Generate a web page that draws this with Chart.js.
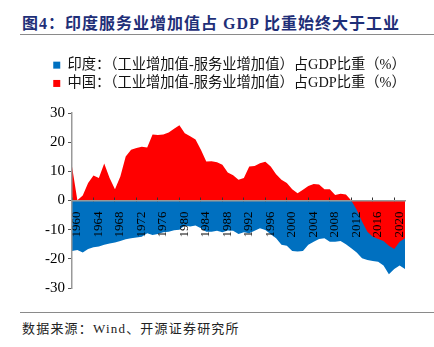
<!DOCTYPE html>
<html>
<head>
<meta charset="utf-8">
<script src="https://cdn.jsdelivr.net/npm/chart.js@4.4.0/dist/chart.umd.min.js"></script>
<style>
  body { margin: 0; width: 434px; height: 347px; background: #fff; position: relative; overflow: hidden;
         font-family: "Liberation Serif", "Noto Sans CJK SC", serif; }
  #title { position: absolute; left: 22px; top: 10px; font-size: 16px; font-weight: bold; color: #1f2f78;
           letter-spacing: 1px; white-space: nowrap; }
  .rule { position: absolute; left: 20px; width: 414px; border-top: 1.5px solid #8a8a8a; }
  #wrap { position: absolute; left: 0; top: 54px; width: 434px; height: 251px; }
  #source { position: absolute; left: 22px; top: 318px; font-size: 13px; color: #222; letter-spacing: 1.2px;
            white-space: nowrap; }
</style>
</head>
<body>
<div id="title">图4：印度服务业增加值占 GDP 比重始终大于工业</div>
<div class="rule" style="top:34px"></div>
<div id="wrap"><canvas id="areaChart"></canvas></div>
<div class="rule" style="top:312px"></div>
<div id="source">数据来源：Wind、开源证券研究所</div>
<script>
const years = [
  "1960", "1961", "1962", "1963", "1964", "1965", "1966", "1967", "1968", "1969",
  "1970", "1971", "1972", "1973", "1974", "1975", "1976", "1977", "1978", "1979",
  "1980", "1981", "1982", "1983", "1984", "1985", "1986", "1987", "1988", "1989",
  "1990", "1991", "1992", "1993", "1994", "1995", "1996", "1997", "1998", "1999",
  "2000", "2001", "2002", "2003", "2004", "2005", "2006", "2007", "2008", "2009",
  "2010", "2011", "2012", "2013", "2014", "2015", "2016", "2017", "2018", "2019",
  "2020", "2021", "2022"
];
// 工业增加值 - 服务业增加值，占GDP比重（%）
const indiaGap = [
  -17.3, -17.0, -17.8, -16.6, -16.0, -15.8, -15.2, -14.7, -14.4, -13.9,
  -13.3, -12.9, -12.7, -12.4, -11.2, -11.8, -11.5, -10.9, -10.7, -10.2,
  -10.0, -8.6, -8.9, -8.6, -9.5, -10.7, -10.7, -10.4, -10.9, -10.3,
  -10.4, -11.5, -10.9, -11.2, -10.4, -9.5, -10.1, -11.6, -12.9, -15.2,
  -15.5, -17.3, -17.5, -17.3, -15.2, -14.1, -13.2, -12.9, -14.1, -14.1,
  -13.9, -15.0, -16.4, -17.8, -19.8, -20.4, -20.7, -21.0, -22.3, -25.3,
  -23.5, -22.3, -23.5
];
const chinaGap = [
  11.7, 0.1, 1.7, 6.0, 8.6, 7.7, 12.7, 7.7, 3.9, 8.2,
  15.1, 17.4, 18.0, 18.4, 18.2, 22.6, 22.5, 22.6, 23.3, 24.6,
  25.8, 23.1, 22.0, 20.9, 17.4, 13.4, 13.5, 13.1, 12.3, 9.6,
  8.7, 7.1, 7.7, 11.7, 11.8, 12.8, 13.3, 11.7, 9.0, 7.1,
  6.0, 3.9, 2.5, 3.7, 5.0, 5.7, 5.5, 3.9, 3.9, 1.9,
  2.3, 2.1, 0.0, -3.2, -7.2, -10.7, -12.4, -13.2, -13.9, -15.5,
  -16.6, -14.1, -12.9
];
const tickYears = ["1960", "1964", "1968", "1972", "1976", "1980", "1984", "1988",
  "1992", "1996", "2000", "2004", "2008", "2012", "2016", "2020"];
const yTicks = [-30, -20, -10, 0, 10, 20, 30];

const serif = '"Liberation Serif", "Noto Sans CJK SC", serif';

// taller legend box to open a gap above the plot, and nudge the legend rightwards
const legendTweak = {
  id: "legendTweak",
  beforeInit(chart) {
    const legend = chart.legend;
    const fit = legend.fit;
    const draw = legend.draw;
    legend.fit = function () {
      fit.call(this);
      this.height = 59;
    };
    legend.draw = function () {
      this.ctx.save();
      this.ctx.translate(27, 0);
      draw.call(this);
      this.ctx.restore();
    };
  },
};

const ctx = document.getElementById("areaChart").getContext("2d");
const areaChart = new Chart(ctx, {
  type: "line",
  data: {
    labels: years,
    datasets: [
      {
        label: "印度：（工业增加值-服务业增加值）占GDP比重（%）",
        data: indiaGap,
        backgroundColor: "#0070c0",
        borderColor: "rgba(0,0,0,0)",
        borderWidth: 0,
        fill: "origin",
        pointRadius: 0,
        tension: 0,
        order: 1, // drawn underneath
      },
      {
        label: "中国：（工业增加值-服务业增加值）占GDP比重（%）",
        data: chinaGap,
        backgroundColor: "#ff0000",
        borderColor: "rgba(0,0,0,0)",
        borderWidth: 0,
        fill: "origin",
        pointRadius: 0,
        tension: 0,
        order: 0,
      },
    ],
  },
  options: {
    responsive: true,
    maintainAspectRatio: false,
    animation: false,
    layout: { padding: { left: 0, right: 29, top: 0, bottom: 17 } },
    scales: {
      x: {
        position: { y: 0 },
        // axis, tick marks and years go on top of the filled areas
        grid: { drawOnChartArea: false, tickLength: -4, tickColor: "#333", lineWidth: 1, z: 1 },
        border: { display: true, color: "#999", width: 1.5, z: 1 },
        ticks: {
          z: 1,
          autoSkip: false,
          minRotation: 90,
          maxRotation: 90,
          padding: 15,
          labelOffset: 5,
          color: "#000",
          font: { family: serif, size: 13 },
          callback: function (value) {
            const label = this.getLabelForValue(value);
            return tickYears.includes(label) ? label : null;
          },
        },
      },
      y: {
        min: -30,
        max: 30,
        afterFit: (scale) => { scale.width = 72; },
        afterBuildTicks: (scale) => { scale.ticks = yTicks.map((v) => ({ value: v })); },
        grid: { drawOnChartArea: false, tickLength: 4, tickColor: "#555", z: 1 },
        border: { display: true, color: "#999", width: 1.5, z: 1 },
        ticks: { z: 1, padding: 3, color: "#000", font: { family: serif, size: 15 } },
      },
    },
    plugins: {
      legend: {
        display: true,
        position: "top",
        labels: {
          boxWidth: 7,
          boxHeight: 7,
          padding: 4,
          color: "#111",
          font: { family: serif, size: 14.3 },
          sort: (a, b) => a.datasetIndex - b.datasetIndex,
        },
      },
      tooltip: { enabled: false },
    },
  },
  plugins: [legendTweak],
});
</script>
</body>
</html>
